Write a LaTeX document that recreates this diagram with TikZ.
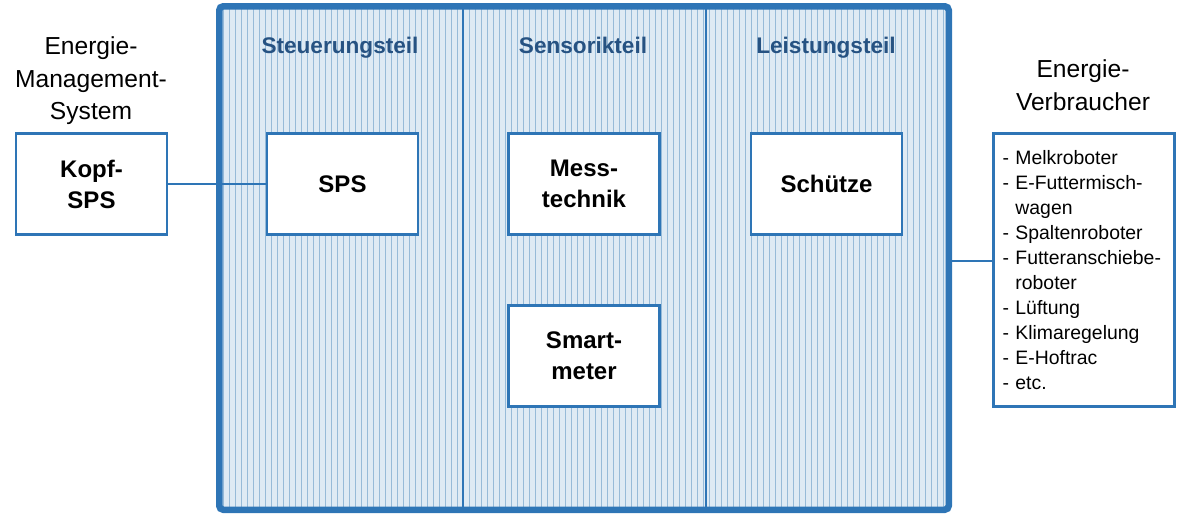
\documentclass[tikz,border=0pt]{standalone}
\usepackage{fontspec}
\setmainfont{Liberation Sans}
\usetikzlibrary{patterns}
\definecolor{rahmenblau}{RGB}{46,117,182}
\definecolor{kopfblau}{RGB}{38,82,130}
\definecolor{streifengrund}{RGB}{222,234,244}
\definecolor{streifen}{RGB}{150,186,216}
\begin{document}
\begin{tikzpicture}[x=0.5pt,y=-0.5pt,
		box/.style={draw=rahmenblau,line width=1.4pt,fill=white,minimum width=75.5pt,minimum height=50.5pt,align=center,font=\bfseries\fontsize{12}{15.5}\selectfont},
		teil/.style={anchor=base,text=kopfblau,font=\bfseries\fontsize{11.3}{13}\selectfont},
		titel/.style={align=center,font=\fontsize{12.3}{16.3}\selectfont},
		link/.style={draw=rahmenblau,line width=1pt}]
			\useasboundingbox (0,0) rectangle (1178,515);
			
			\node [preaction={fill=streifengrund},pattern=vertical lines,pattern color=streifen,draw=rahmenblau,line width=3.25pt,rounded corners=2pt,minimum width=364.75pt,minimum height=251.75pt] (R) at (584,258) {};
			\draw [rahmenblau,line width=1pt] (R.north -| 463,0) -- (R.south -| 463,0);
			\draw [rahmenblau,line width=1pt] (R.north -| 706,0) -- (R.south -| 706,0);
			
			\node [teil] (T1) at (340,53) {Steuerungsteil};
			\node [teil] (T2) at (583,53) {Sensorikteil};
			\node [teil] (T3) at (826,53) {Leistungsteil};
			
			\node [titel] (EMS) at (91,81) {Energie-\\Management-\\System};
			\node [titel] (EV) at (1083,85) {Energie-\\Verbraucher};
			
			\node [box] (KS) at (91.5,184) {Kopf-\\SPS};
			\node [box] (SPS) at (342.5,184) {SPS};
			\node [box] (MT) at (584,184) {Mess-\\technik};
			\node [box] (SM) at (584,356) {Smart-\\meter};
			\node [box] (SCH) at (826.5,184) {Schütze};
			\node [draw=rahmenblau,line width=1.2pt,fill=white,inner xsep=4.5pt,text width=81.5pt,minimum height=136.5pt,align=left,font=\fontsize{9.7}{12.5}\selectfont] (V) at (1084,270)
				{- Melkroboter\\- E-Futtermisch-\\\hphantom{- }wagen\\- Spaltenroboter\\- Futteranschiebe-\\\hphantom{- }roboter\\- Lüftung\\- Klimaregelung\\- E-Hoftrac\\- etc.};
			
			\draw [link] (KS) -- (SPS);
			\draw [link] (R.east |- 0,261) -- (V.west |- 0,261);
		\end{tikzpicture}
\end{document}
